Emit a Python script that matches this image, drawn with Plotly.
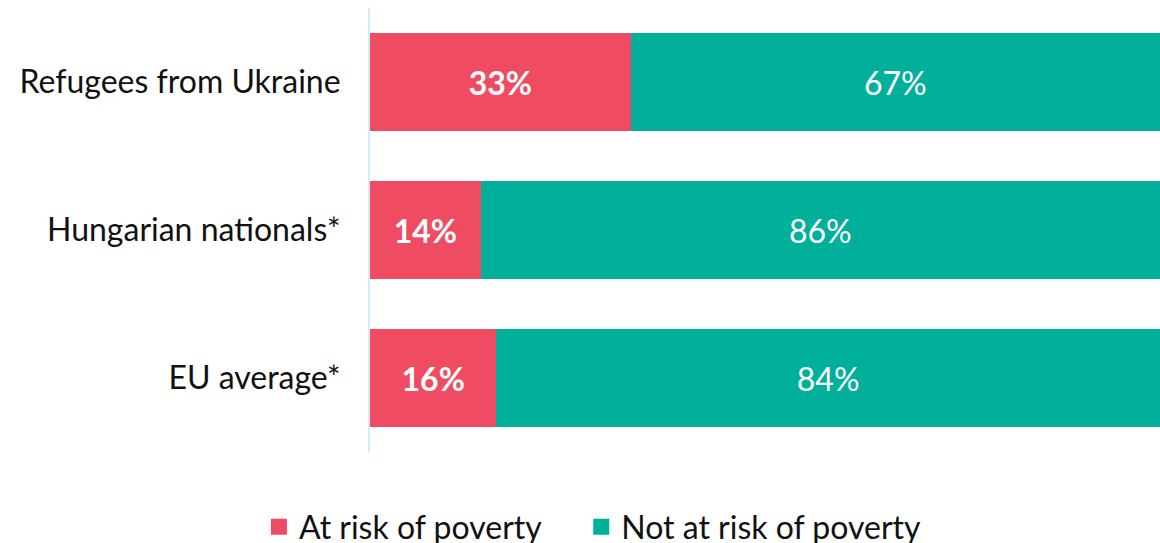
import plotly.graph_objects as go

categories = ["Refugees from Ukraine", "Hungarian nationals*", "EU average*"]
at_risk = [33, 14, 16]
not_at_risk = [67, 86, 84]
series_names = ["At risk of poverty", "Not at risk of poverty"]

RED = "#EF4B62"
GREEN = "#00B09B"
FONT = "Lato, 'Open Sans', sans-serif"
SIZE = 32

fig = go.Figure()

fig.add_trace(go.Bar(
    y=categories, x=at_risk, orientation="h", name=series_names[0],
    marker=dict(color=RED, line=dict(width=0)),
    text=[f"{v}%" for v in at_risk], textposition="inside",
    insidetextanchor="middle", textangle=0,
    textfont=dict(family=FONT, size=SIZE, color="white", weight="bold"),
    showlegend=False,
))
fig.add_trace(go.Bar(
    y=categories, x=not_at_risk, orientation="h", name=series_names[1],
    marker=dict(color=GREEN, line=dict(width=0)),
    text=[f"{v}%" for v in not_at_risk], textposition="inside",
    insidetextanchor="middle", textangle=0,
    textfont=dict(family=FONT, size=SIZE, color="white"),
    showlegend=False,
))

# legend entries with square swatches, one legend box each
for name, color, lg in zip(series_names, [RED, GREEN], ["legend", "legend2"]):
    fig.add_trace(go.Scatter(
        x=[None], y=[None], mode="markers", name=name, legend=lg,
        marker=dict(symbol="square", size=18, color=color),
    ))

legend_style = dict(
    orientation="h", xanchor="left", y=-0.107, yanchor="top",
    font=dict(family=FONT, size=SIZE, color="#111111"),
    itemwidth=30, bgcolor="rgba(0,0,0,0)",
)

fig.update_layout(
    width=1160, height=543,
    margin=dict(l=370, r=0, t=8, b=91, autoexpand=False),
    barmode="stack", bargap=0.34,
    plot_bgcolor="white", paper_bgcolor="white",
    font=dict(family=FONT, size=SIZE, color="#111111"),
    xaxis=dict(range=[0, 100], visible=False, showgrid=False, zeroline=False),
    yaxis=dict(
        autorange="reversed", showgrid=False, zeroline=False,
        showline=True, linecolor="#D4EBFA", linewidth=2,
        ticks="", ticklabelstandoff=21,
        tickfont=dict(family=FONT, size=SIZE, color="#111111"),
    ),
    legend=dict(legend_style, x=-0.1406),
    legend2=dict(legend_style, x=0.2674),
    showlegend=True,
)

fig.write_html("out.html")
